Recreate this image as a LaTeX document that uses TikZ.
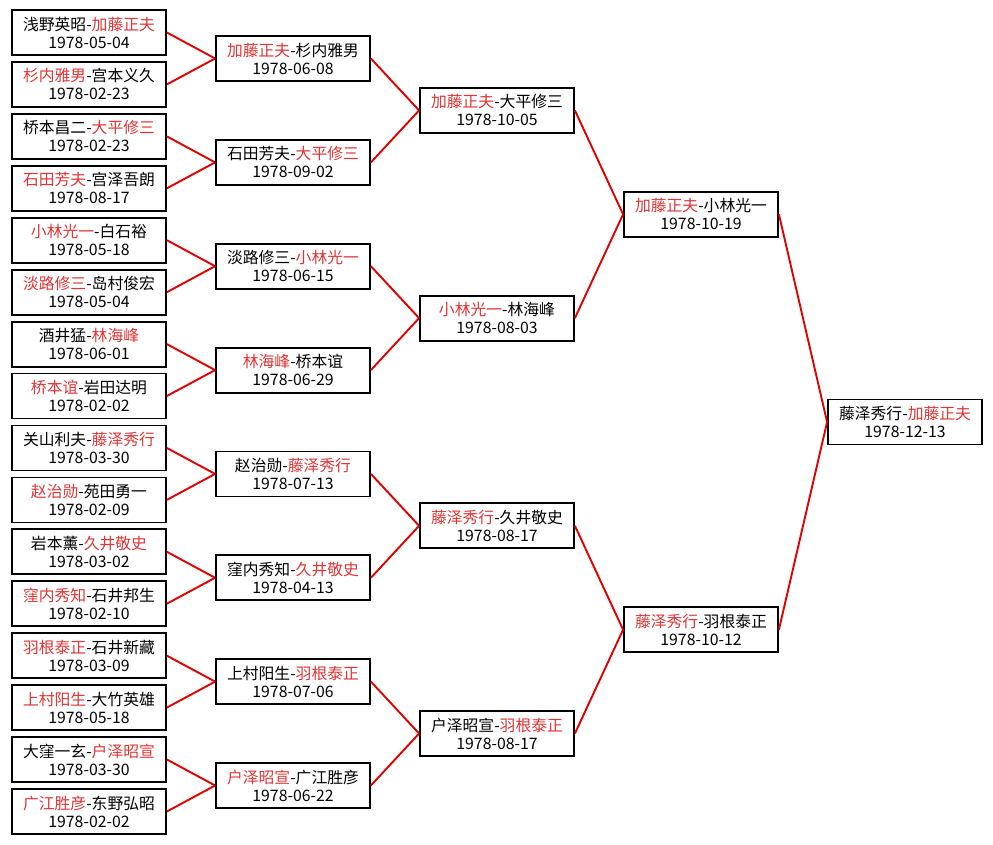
\documentclass[tikz,border=0pt]{standalone}
\usepackage{fontspec}
\setmainfont{Noto Sans CJK SC}
\usepackage{xcolor}
\usepackage{tikz}
\usetikzlibrary{positioning}
\definecolor{winner}{HTML}{E23434}
\definecolor{linkred}{HTML}{E00000}
\newcommand\win[1]{\textcolor{winner}{#1}}

\begin{document}
\begin{tikzpicture}[
  x=1pt,y=-1pt,
  game/.style={draw,line width=1.8pt,align=center,fill=white,
    font=\fontsize{15.8}{18}\selectfont,inner sep=0pt,
    minimum width=154pt,minimum height=45pt},
  link/.style={linkred,line width=1.9pt}
]
\useasboundingbox (0,0) rectangle (993,845);

% first round
\node[game] (r1a) at (89,32.5) {浅野英昭-\win{加藤正夫}\\1978-05-04};
\node[game] (r1b) at (89,84.4) {\win{杉内雅男}-宫本义久\\1978-02-23};
\node[game] (r1c) at (89,136.4) {桥本昌二-\win{大平修三}\\1978-02-23};
\node[game] (r1d) at (89,188.3) {\win{石田芳夫}-宫泽吾朗\\1978-08-17};
\node[game] (r1e) at (89,240.2) {\win{小林光一}-白石裕\\1978-05-18};
\node[game] (r1f) at (89,292.2) {\win{淡路修三}-岛村俊宏\\1978-05-04};
\node[game] (r1g) at (89,344.1) {酒井猛-\win{林海峰}\\1978-06-01};
\node[game] (r1h) at (89,396.0) {\win{桥本谊}-岩田达明\\1978-02-02};
\node[game] (r1i) at (89,448.0) {关山利夫-\win{藤泽秀行}\\1978-03-30};
\node[game] (r1j) at (89,499.9) {\win{赵治勋}-苑田勇一\\1978-02-09};
\node[game] (r1k) at (89,551.8) {岩本薰-\win{久井敬史}\\1978-03-02};
\node[game] (r1l) at (89,603.7) {\win{窪内秀知}-石井邦生\\1978-02-10};
\node[game] (r1m) at (89,655.7) {\win{羽根泰正}-石井新藏\\1978-03-09};
\node[game] (r1n) at (89,707.6) {\win{上村阳生}-大竹英雄\\1978-05-18};
\node[game] (r1o) at (89,759.5) {大窪一玄-\win{户泽昭宣}\\1978-03-30};
\node[game] (r1p) at (89,811.5) {\win{广江胜彦}-东野弘昭\\1978-02-02};

% second round
\node[game] (r2a) at (293,58.5) {\win{加藤正夫}-杉内雅男\\1978-06-08};
\node[game] (r2b) at (293,162.4) {石田芳夫-\win{大平修三}\\1978-09-02};
\node[game] (r2c) at (293,266.2) {淡路修三-\win{小林光一}\\1978-06-15};
\node[game] (r2d) at (293,370.1) {\win{林海峰}-桥本谊\\1978-06-29};
\node[game] (r2e) at (293,473.9) {赵治勋-\win{藤泽秀行}\\1978-07-13};
\node[game] (r2f) at (293,577.8) {窪内秀知-\win{久井敬史}\\1978-04-13};
\node[game] (r2g) at (293,681.6) {上村阳生-\win{羽根泰正}\\1978-07-06};
\node[game] (r2h) at (293,785.5) {\win{户泽昭宣}-广江胜彦\\1978-06-22};

% quarter and semi finals
\node[game] (r3a) at (497,110.4) {\win{加藤正夫}-大平修三\\1978-10-05};
\node[game] (r3b) at (497,318.1) {\win{小林光一}-林海峰\\1978-08-03};
\node[game] (r3c) at (497,525.8) {\win{藤泽秀行}-久井敬史\\1978-08-17};
\node[game] (r3d) at (497,733.5) {户泽昭宣-\win{羽根泰正}\\1978-08-17};
\node[game] (r4a) at (701,214.3) {\win{加藤正夫}-小林光一\\1978-10-19};
\node[game] (r4b) at (701,629.7) {\win{藤泽秀行}-羽根泰正\\1978-10-12};

% final
\node[game] (final) at (905,422.0) {藤泽秀行-\win{加藤正夫}\\1978-12-13};

\draw[link] (r1a.east) -- (r2a.west);
\draw[link] (r1b.east) -- (r2a.west);
\draw[link] (r1c.east) -- (r2b.west);
\draw[link] (r1d.east) -- (r2b.west);
\draw[link] (r1e.east) -- (r2c.west);
\draw[link] (r1f.east) -- (r2c.west);
\draw[link] (r1g.east) -- (r2d.west);
\draw[link] (r1h.east) -- (r2d.west);
\draw[link] (r1i.east) -- (r2e.west);
\draw[link] (r1j.east) -- (r2e.west);
\draw[link] (r1k.east) -- (r2f.west);
\draw[link] (r1l.east) -- (r2f.west);
\draw[link] (r1m.east) -- (r2g.west);
\draw[link] (r1n.east) -- (r2g.west);
\draw[link] (r1o.east) -- (r2h.west);
\draw[link] (r1p.east) -- (r2h.west);
\draw[link] (r2a.east) -- (r3a.west);
\draw[link] (r2b.east) -- (r3a.west);
\draw[link] (r2c.east) -- (r3b.west);
\draw[link] (r2d.east) -- (r3b.west);
\draw[link] (r2e.east) -- (r3c.west);
\draw[link] (r2f.east) -- (r3c.west);
\draw[link] (r2g.east) -- (r3d.west);
\draw[link] (r2h.east) -- (r3d.west);
\draw[link] (r3a.east) -- (r4a.west);
\draw[link] (r3b.east) -- (r4a.west);
\draw[link] (r3c.east) -- (r4b.west);
\draw[link] (r3d.east) -- (r4b.west);
\draw[link] (r4a.east) -- (final.west);
\draw[link] (r4b.east) -- (final.west);
\end{tikzpicture}
\end{document}
